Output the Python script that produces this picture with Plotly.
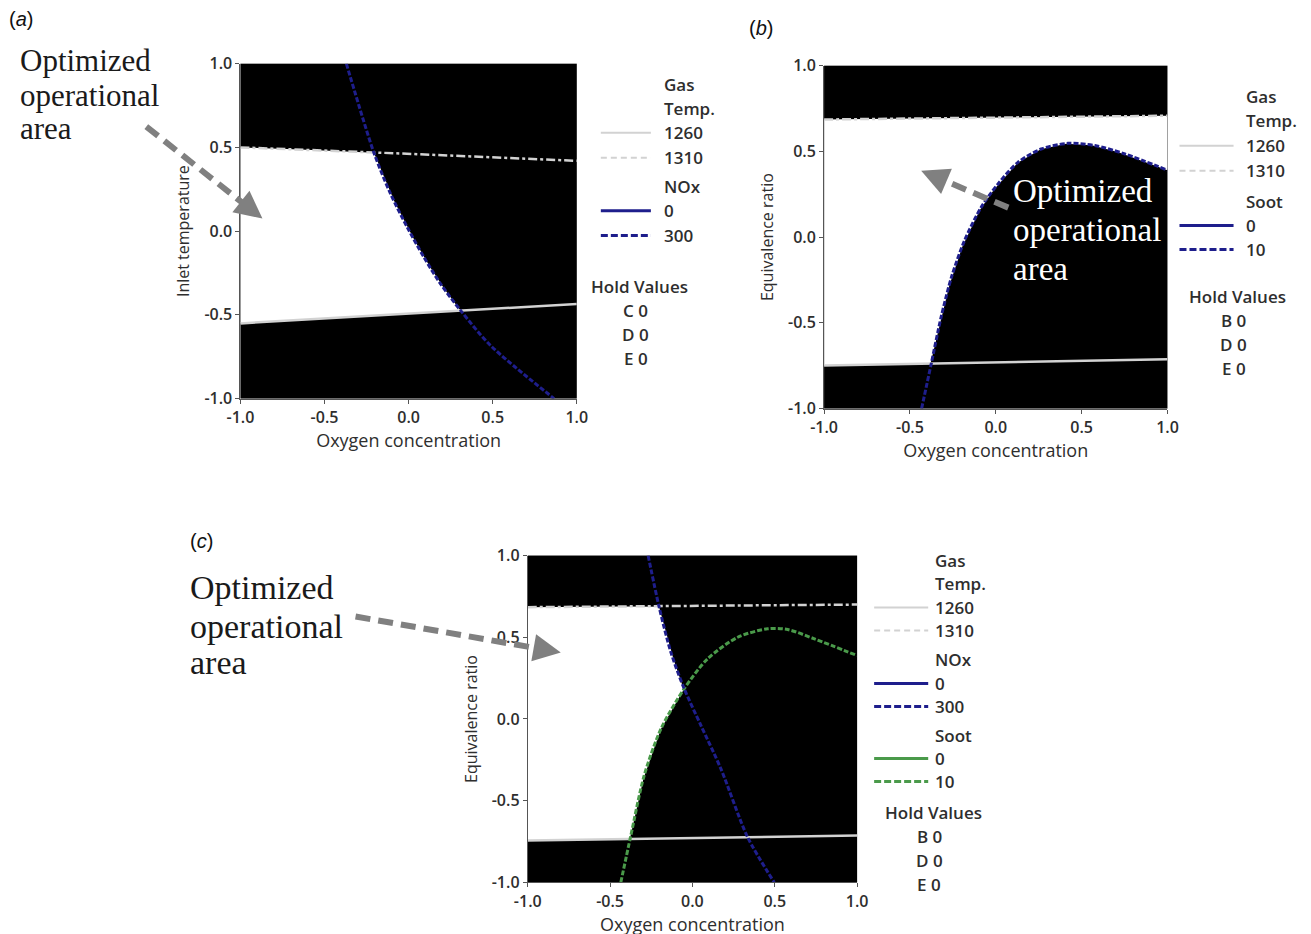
import numpy as np
import plotly.graph_objects as go

# target image size and the page-to-image mapping of the viewer
W, H = 1311, 934
M = 8                      # default page margin around the figure
SX, OX = 0.98, 6.0         # horizontal scale / offset
SY, OY = 0.977, 2.5        # vertical scale / offset
FW = int(round((W - OX) / SX)) - M
FH = int(round((H - OY) / SY)) - M

# axis ticks shared by all three panels
tick_vals = [-1.0, -0.5, 0.0, 0.5, 1.0]
tick_text = ["-1.0", "-0.5", "0.0", "0.5", "1.0"]

# contour levels listed in the legends
gas_temp_levels = ["1260", "1310"]
nox_levels = ["0", "300"]
soot_levels = ["0", "10"]

# factors held at their centre values
hold_a = ["C", "D", "E"]
hold_bc = ["B", "D", "E"]
hold_level = "0"

# (a) oxygen concentration vs inlet temperature, NOx constraint
a_gas1260_x = [-1.0, -0.70, 0.31, 0.49, 1.0]
a_gas1260_y = [-0.551, -0.534, -0.475, -0.465, -0.435]
a_gas1310_x = [-1.0, -0.70, -0.21, 0.49, 1.0]
a_gas1310_y = [0.50, 0.49, 0.47, 0.441, 0.42]
a_nox300_x = [-0.37, -0.207, -0.107, -0.008, 0.091, 0.19, 0.31, 0.488, 0.865]
a_nox300_y = [1.0, 0.47, 0.222, 0.023, -0.156, -0.315, -0.475, -0.684, -1.0]

# (b) oxygen concentration vs equivalence ratio, soot constraint
b_gas1260_x = [-1.0, 1.0]
b_gas1260_y = [-0.749, -0.712]
b_gas1310_x = [-1.0, 1.0]
b_gas1310_y = [0.686, 0.708]
b_soot10_x = [-0.432, -0.376, -0.318, -0.257, -0.182, -0.085, 0.013, 0.129, 0.265, 0.421, 0.577, 0.752, 1.0]
b_soot10_y = [-1.0, -0.739, -0.465, -0.23, -0.02, 0.174, 0.31, 0.436, 0.514, 0.547, 0.534, 0.485, 0.39]

# (c) oxygen concentration vs equivalence ratio, NOx and soot constraints
c_gas1260_x = [-1.0, 1.0]
c_gas1260_y = [-0.743, -0.713]
c_gas1310_x = [-1.0, 1.0]
c_gas1310_y = [0.684, 0.70]
c_nox300_x = [-0.269, -0.202, -0.131, -0.050, 0.052, 0.173, 0.335, 0.497]
c_nox300_y = [1.0, 0.684, 0.409, 0.185, -0.040, -0.305, -0.723, -1.0]
c_soot10_x = [-0.435, -0.374, -0.293, -0.191, -0.050, 0.092, 0.275, 0.457, 0.579, 0.741, 1.0]
c_soot10_y = [-1.0, -0.713, -0.346, -0.06, 0.185, 0.368, 0.50, 0.552, 0.547, 0.49, 0.388]

# colours
GAS_COL = "#d2d2d2"
NOX_COL = "#1e1e8c"
SOOT_B_COL = "#1e1e8c"
SOOT_C_COL = "#4a9a4a"
TXT_COL = "#2e2e2e"
ARROW_COL = "#808080"
SANS = "Open Sans"
SERIF = "Liberation Serif"

# plot boxes in image pixels: left, right, top, bottom
box_a = (240, 576, 63, 398)
box_b = (823, 1166, 65, 408)
box_c = (527, 856, 555, 882)


def px(xp):
    return ((xp - OX) / SX - M) / FW


def py(yp):
    return 1 - ((yp - OY) / SY - M) / FH


def feasible_region(lo_x, lo_y, hi_x, hi_y, nox=None, soot=None):
    """Polygon of the operating window between the gas temperature limits,
    left of the NOx contour and above the soot contour."""
    xs = np.linspace(-1.0, 1.0, 1601)
    hi = np.interp(xs, hi_x, hi_y)
    lo = np.interp(xs, lo_x, lo_y)
    if nox is not None:
        hi = np.minimum(hi, np.interp(xs, nox[0], nox[1]))
    if soot is not None:
        lo = np.maximum(lo, np.interp(xs, soot[0], soot[1], left=-1.0))
    m = hi > lo
    rx = np.concatenate([xs[m], xs[m][::-1]])
    ry = np.concatenate([hi[m], lo[m][::-1]])
    return rx, ry


fig = go.Figure()


def add_panel(xa, ya, lo, hi, nox=None, soot=None, soot_col=None):
    rx, ry = feasible_region(lo[0], lo[1], hi[0], hi[1], nox, soot)
    fig.add_trace(go.Scatter(x=rx, y=ry, fill="toself", fillcolor="white",
                             mode="lines", line=dict(width=0, color="rgba(0,0,0,0)"),
                             hoverinfo="skip", showlegend=False, xaxis=xa, yaxis=ya))
    fig.add_trace(go.Scatter(x=hi[0], y=hi[1], mode="lines",
                             line=dict(color=GAS_COL, width=2.5, dash="dashdot"),
                             showlegend=False, xaxis=xa, yaxis=ya))
    fig.add_trace(go.Scatter(x=lo[0], y=lo[1], mode="lines",
                             line=dict(color=GAS_COL, width=2.5),
                             showlegend=False, xaxis=xa, yaxis=ya))
    if soot is not None:
        fig.add_trace(go.Scatter(x=soot[0], y=soot[1], mode="lines",
                                 line=dict(color=soot_col, width=3, dash="5px,2px",
                                           shape="spline", smoothing=0.8),
                                 showlegend=False, xaxis=xa, yaxis=ya))
    if nox is not None:
        fig.add_trace(go.Scatter(x=nox[0], y=nox[1], mode="lines",
                                 line=dict(color=NOX_COL, width=3, dash="5px,2px",
                                           shape="spline", smoothing=0.8),
                                 showlegend=False, xaxis=xa, yaxis=ya))


add_panel("x", "y", (a_gas1260_x, a_gas1260_y), (a_gas1310_x, a_gas1310_y),
          nox=(a_nox300_x, a_nox300_y))
add_panel("x2", "y2", (b_gas1260_x, b_gas1260_y), (b_gas1310_x, b_gas1310_y),
          soot=(b_soot10_x, b_soot10_y), soot_col=SOOT_B_COL)
add_panel("x3", "y3", (c_gas1260_x, c_gas1260_y), (c_gas1310_x, c_gas1310_y),
          nox=(c_nox300_x, c_nox300_y), soot=(c_soot10_x, c_soot10_y), soot_col=SOOT_C_COL)


def x_axis(box, anchor):
    return dict(domain=[px(box[0]), px(box[1])], anchor=anchor, range=[-1, 1],
                tickvals=tick_vals, ticktext=tick_text, ticks="outside", ticklen=4,
                tickwidth=1, tickcolor="#555", showline=True, linecolor="#555",
                linewidth=1, showgrid=False, zeroline=False, fixedrange=True,
                tickfont=dict(family=SANS, size=16, color=TXT_COL, weight=600),
                title=dict(text="Oxygen concentration", standoff=6,
                           font=dict(family=SANS, size=18, color=TXT_COL)))


def y_axis(box, anchor, title):
    return dict(domain=[py(box[3]), py(box[2])], anchor=anchor, range=[-1, 1],
                tickvals=tick_vals, ticktext=tick_text, ticks="outside", ticklen=4,
                tickwidth=1, tickcolor="#555", showline=True, linecolor="#555",
                linewidth=1, showgrid=False, zeroline=False, fixedrange=True,
                tickfont=dict(family=SANS, size=16, color=TXT_COL, weight=600),
                title=dict(text=title, standoff=10,
                           font=dict(family=SANS, size=16, color=TXT_COL)))


annotations = []
shapes = []


def text(x, y, s, size=17, family=SANS, color=TXT_COL, anchor="left", weight="normal"):
    annotations.append(dict(x=px(x), y=py(y), xref="paper", yref="paper", text=s,
                            showarrow=False, xanchor=anchor, yanchor="middle",
                            borderpad=0,
                            font=dict(family=family, size=size, color=color, weight=weight)))


def sample(x0, x1, y, color, width, dash):
    shapes.append(dict(type="line", xref="paper", yref="paper", x0=px(x0), x1=px(x1),
                       y0=py(y), y1=py(y), line=dict(color=color, width=width, dash=dash)))


def legend(xl0, xl1, xt, rows, hold, hold_y, hold_cx):
    for label, y, style in rows:
        text(xt, y, label, weight=600)
        if style is not None:
            sample(xl0, xl1, y, *style)
    text(hold_cx, hold_y, "Hold Values", anchor="center", weight=600)
    for i, f in enumerate(hold):
        text(hold_cx - 4, hold_y + 24 * (i + 1), f + " " + hold_level, anchor="center",
             weight=600)


gas_solid = (GAS_COL, 2, "solid")
gas_dash = (GAS_COL, 2, "6px,4px")

legend(600, 650, 662, [
    ("Gas", 84, None), ("Temp.", 108, None),
    (gas_temp_levels[0], 132, gas_solid), (gas_temp_levels[1], 157, gas_dash),
    ("NOx", 186, None),
    (nox_levels[0], 210, (NOX_COL, 3, "solid")), (nox_levels[1], 235, (NOX_COL, 3, "7px,3px")),
], hold_a, 286, 639)

legend(1178, 1232, 1243, [
    ("Gas", 96, None), ("Temp.", 120, None),
    (gas_temp_levels[0], 145, gas_solid), (gas_temp_levels[1], 170, gas_dash),
    ("Soot", 201, None),
    (soot_levels[0], 225, (SOOT_B_COL, 3, "solid")), (soot_levels[1], 249, (SOOT_B_COL, 3, "7px,3px")),
], hold_bc, 296, 1236)

legend(873, 927, 933, [
    ("Gas", 560, None), ("Temp.", 583, None),
    (gas_temp_levels[0], 607, gas_solid), (gas_temp_levels[1], 630, gas_dash),
    ("NOx", 659, None),
    (nox_levels[0], 683, (NOX_COL, 3, "solid")), (nox_levels[1], 706, (NOX_COL, 3, "7px,3px")),
    ("Soot", 735, None),
    (soot_levels[0], 758, (SOOT_C_COL, 3, "solid")), (soot_levels[1], 781, (SOOT_C_COL, 3, "7px,3px")),
], hold_bc, 812, 932)

# panel letters
text(8, 18, "(<i>a</i>)", size=20, family="Liberation Sans", color="#111")
text(747, 27, "(<i>b</i>)", size=20, family="Liberation Sans", color="#111")
text(189, 540, "(<i>c</i>)", size=20, family="Liberation Sans", color="#111")

# callouts
callout = ["Optimized", "operational", "area"]
for s, y in zip(callout, [60, 95, 128]):
    text(19, y, s, size=31, family=SERIF, color="#1a1a1a")
for s, y in zip(callout, [190, 229, 268]):
    text(1011, y, s, size=33, family=SERIF, color="white")
for s, y in zip(callout, [587, 626, 662]):
    text(189, y, s, size=34, family=SERIF, color="#1a1a1a")


def arrow(tail, head):
    tx, ty = tail
    hx, hy = head
    d = np.hypot(hx - tx, hy - ty)
    ux, uy = (hx - tx) / d, (hy - ty) / d
    mx, my = hx - 22 * ux, hy - 22 * uy
    shapes.append(dict(type="line", xref="paper", yref="paper", x0=px(tx), y0=py(ty),
                       x1=px(mx), y1=py(my),
                       line=dict(color=ARROW_COL, width=6, dash="15px,8px")))
    annotations.append(dict(x=px(hx), y=py(hy), xref="paper", yref="paper", text="",
                            showarrow=True, ax=(mx - hx - 4 * ux) / SX,
                            ay=(my - hy - 4 * uy) / SY,
                            arrowhead=2, arrowsize=1.1, arrowwidth=5, arrowcolor=ARROW_COL))


arrow((146, 126), (262, 218))
arrow((1007, 207), (920, 170))
arrow((355, 616), (560, 652))

fig.update_layout(
    width=FW, height=FH, margin=dict(l=0, r=0, t=0, b=0),
    paper_bgcolor="white", plot_bgcolor="black", showlegend=False,
    xaxis=x_axis(box_a, "y"), yaxis=y_axis(box_a, "x", "Inlet temperature"),
    xaxis2=x_axis(box_b, "y2"), yaxis2=y_axis(box_b, "x2", "Equivalence ratio"),
    xaxis3=x_axis(box_c, "y3"), yaxis3=y_axis(box_c, "x3", "Equivalence ratio"),
    annotations=annotations, shapes=shapes,
)

fig.write_html("out.html")
